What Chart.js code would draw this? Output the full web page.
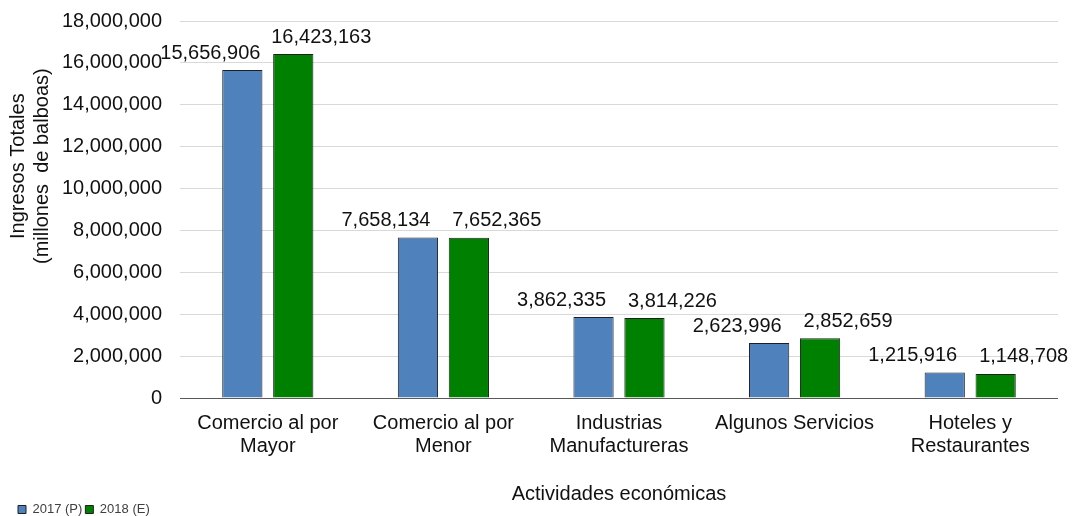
<!DOCTYPE html>
<html>
<head>
<meta charset="utf-8">
<script src="https://cdn.jsdelivr.net/npm/chart.js@4.4.1/dist/chart.umd.min.js"></script>
<style>
    body { margin: 0; background: #fff; }
    #wrap { width: 1073px; height: 516px; position: relative; }
</style>
</head>
<body>
<div id="wrap"><canvas id="barChart_ingresos"></canvas></div>
<script>
const actividades = [
    ['Comercio al por', 'Mayor'],
    ['Comercio al por', 'Menor'],
    ['Industrias', 'Manufactureras'],
    'Algunos Servicios',
    ['Hoteles y', 'Restaurantes'],
];
const ingresos2017 = [15656906, 7658134, 3862335, 2623996, 1215916];
const ingresos2018 = [16423163, 7652365, 3814226, 2852659, 1148708];
const serieNombres = ['2017 (P)', '2018 (E)'];
const tituloY = ['Ingresos Totales', '(millones  de balboas)'];

const fmt = (v) => Number(v).toLocaleString('en-US');
const FONT = "'Liberation Sans', Arial, sans-serif";

// etiquetas de valor encima de cada barra
const etiquetas = {
    id: 'etiquetas',
    afterDatasetsDraw(chart) {
        const ctx = chart.ctx;
        ctx.save();
        ctx.font = '20px ' + FONT;
        ctx.fillStyle = '#111';
        ctx.textAlign = 'center';
        ctx.textBaseline = 'middle';
        chart.data.datasets.forEach((ds, i) => {
            const meta = chart.getDatasetMeta(i);
            meta.data.forEach((bar, j) => {
                const dx = i === 0 ? -32 : 28;
                ctx.fillText(fmt(ds.data[j]), bar.x + dx, bar.y - 17);
            });
        });
        ctx.restore();
    },
};

// titulo del eje Y, un poco por encima del centro como en el original
const tituloEjeY = {
    id: 'tituloEjeY',
    afterDraw(chart) {
        const ctx = chart.ctx;
        const area = chart.chartArea;
        const cy = area.top + (area.bottom - area.top) * 0.385;
        ctx.save();
        ctx.translate(0, cy);
        ctx.rotate(-Math.PI / 2);
        ctx.font = '20px ' + FONT;
        ctx.fillStyle = '#111';
        ctx.textAlign = 'center';
        ctx.textBaseline = 'middle';
        ctx.fillText(tituloY[0], 0, 18);
        ctx.fillText(tituloY[1], 0, 42);
        ctx.restore();
    },
};

new Chart(document.getElementById('barChart_ingresos'), {
    type: 'bar',
    data: {
        labels: actividades,
        datasets: [
            {
                label: serieNombres[0],
                data: ingresos2017,
                backgroundColor: '#4f81bd',
                borderColor: '#1f1f1f',
                borderWidth: 1,
            },
            {
                label: serieNombres[1],
                data: ingresos2018,
                backgroundColor: '#008000',
                borderColor: '#1f1f1f',
                borderWidth: 1,
            },
        ],
    },
    options: {
        responsive: true,
        maintainAspectRatio: false,
        animation: false,
        datasets: {
            bar: { categoryPercentage: 0.58, barPercentage: 0.79 },
        },
        layout: { padding: { top: 21, right: 15, left: 15, bottom: -10 } },
        plugins: {
            legend: {
                position: 'bottom',
                align: 'start',
                labels: {
                    boxWidth: 8,
                    boxHeight: 8,
                    padding: 3,
                    color: '#404040',
                    font: { family: FONT, size: 13 },
                },
            },
            tooltip: { enabled: false },
        },
        scales: {
            x: {
                grid: { display: false },
                border: { display: false },
                ticks: {
                    color: '#111',
                    font: { family: FONT, size: 20, lineHeight: 1.15 },
                    maxRotation: 0,
                    autoSkip: false,
                    padding: 6,
                },
                title: {
                    display: true,
                    text: 'Actividades económicas',
                    color: '#111',
                    font: { family: FONT, size: 20 },
                    padding: { top: 18, bottom: -6 },
                },
            },
            y: {
                min: 0,
                max: 18000000,
                border: { display: false },
                grid: {
                    drawTicks: false,
                    color: (c) => (c.tick && c.tick.value === 0 ? '#595959' : '#d9d9d9'),
                },
                ticks: {
                    stepSize: 2000000,
                    color: '#111',
                    font: { family: FONT, size: 20 },
                    padding: 18,
                    callback: (v) => fmt(v),
                },
                afterFit: (scale) => {
                    scale.width = 165;
                    scale.paddingTop = 0;
                },
            },
        },
    },
    plugins: [etiquetas, tituloEjeY],
});
</script>
</body>
</html>
